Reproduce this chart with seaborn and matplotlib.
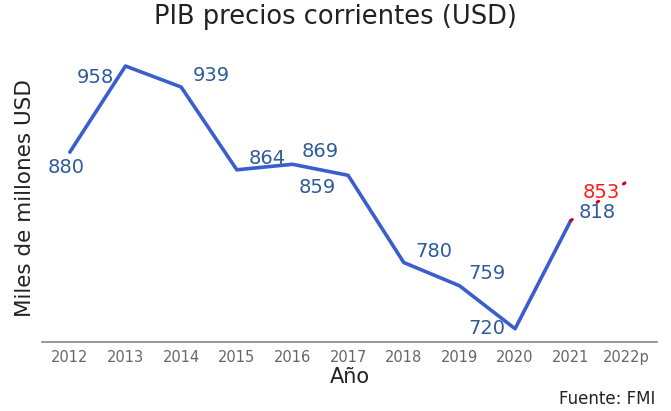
import matplotlib
matplotlib.use("Agg")
import matplotlib.pyplot as plt
import seaborn as sns
import pandas as pd

years = ['2012', '2013', '2014', '2015', '2016', '2017', '2018', '2019', '2020', '2021']
pib = [880, 958, 939, 864, 869, 859, 780, 759, 720, 818]
proj_years = ['2021', '2022p']
proj_pib = [818, 853]
all_years = years + ['2022p']

# label offsets (points) for each value
offsets = [(-3, -11), (-22, -8), (22, 8), (22, 8), (20, 9), (-22, -9), (22, 8), (20, 9), (-20, 0), (19, 6)]

sns.set_style('white')
plt.rcParams['font.family'] = ['DejaVu Sans']

df = pd.DataFrame({'anio': years, 'pib': pib})
df_proj = pd.DataFrame({'anio': proj_years, 'pib': proj_pib})

fig = plt.figure(figsize=(6.71, 4.11), dpi=100)
ax = fig.add_axes([42 / 671, 69 / 411, 615 / 671, 287 / 411])

xpos = {y: i for i, y in enumerate(all_years)}
df['x'] = df['anio'].map(xpos)
df_proj['x'] = df_proj['anio'].map(xpos)

sns.lineplot(data=df, x='x', y='pib', color='#3A5FCD', linewidth=2.6, ax=ax)
sns.lineplot(data=df_proj, x='x', y='pib', color='#D0021B', linewidth=2.2,
             linestyle=(0, (0.6, 9.9)), dash_capstyle='round', ax=ax)

for i, (v, off) in enumerate(zip(pib, offsets)):
    ax.annotate(str(v), (i, v), xytext=off, textcoords='offset points',
                ha='center', va='center', color='#2E5C9A', fontsize=14)
ax.annotate(str(proj_pib[1]), (9, 818), xytext=(22, 20.5), textcoords='offset points',
            ha='center', va='center', color='#FF1A1A', fontsize=14)

ax.set_xlim(-0.5, 10.55)
ax.set_ylim(708, 968)
ax.set_xticks(range(len(all_years)))
ax.set_xticklabels(all_years, color='#666666', fontsize=10.5)
ax.set_yticks([])
ax.tick_params(axis='x', length=0, pad=6)
for s in ['top', 'right', 'left']:
    ax.spines[s].set_visible(False)
ax.spines['bottom'].set_color('#888888')
ax.spines['bottom'].set_linewidth(1.2)

ax.set_xlabel('Año', fontsize=15, color='#222222', labelpad=1)
ax.set_ylabel('Miles de millones USD', fontsize=15.5, color='#222222', labelpad=5)
fig.suptitle('PIB precios corrientes (USD)', fontsize=18.5, y=0.99, color='#222222')
fig.text(0.977, 0.008, 'Fuente: FMI', ha='right', va='bottom', fontsize=12, color='#222222')

fig.savefig('out.png', dpi=100)
